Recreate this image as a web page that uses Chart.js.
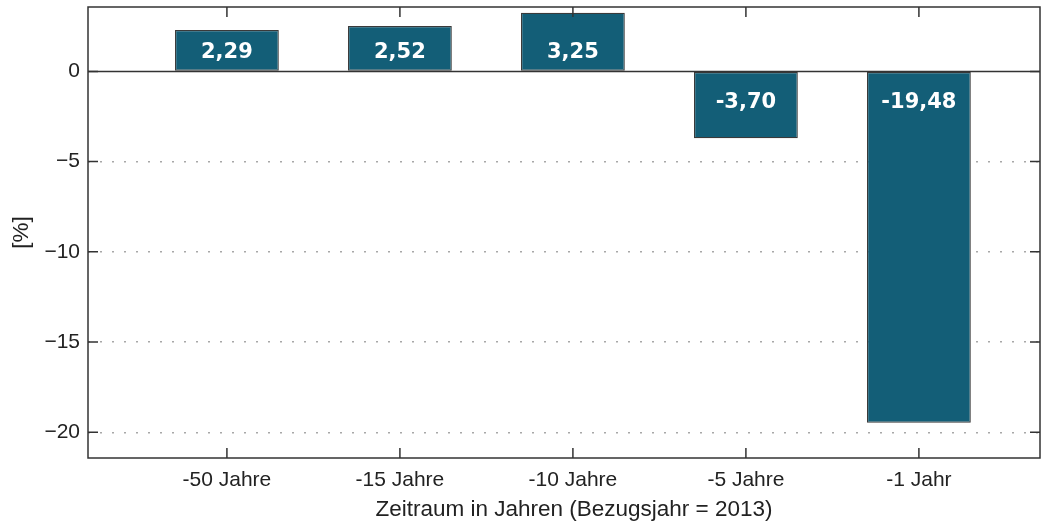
<!DOCTYPE html>
<html>
<head>
<meta charset="utf-8">
<script src="https://cdn.jsdelivr.net/npm/chart.js@4"></script>
<style>
  html, body { margin: 0; padding: 0; background: #fff; }
  #wrap { width: 1043px; height: 527px; }
</style>
</head>
<body>
<div id="wrap"><canvas id="chart"></canvas></div>
<script>
// data
const categories = ['-50 Jahre', '-15 Jahre', '-10 Jahre', '-5 Jahre', '-1 Jahr'];
const changes = [2.29, 2.52, 3.25, -3.70, -19.48];
const yTicks = [-20, -15, -10, -5, 0];
const xTitle = 'Zeitraum in Jahren (Bezugsjahr = 2013)';

const barColor = '#135e77';
const frameColor = '#333333';
const tickFont = { family: '"Liberation Sans", Arial, sans-serif', size: 21 };
const titleFont = { family: '"Liberation Sans", Arial, sans-serif', size: 22.5 };

// inward ticks on all four sides, zero line, frame, value labels, x title
const framePlugin = {
    id: 'frame',
    afterDatasetsDraw(chart) {
        const ctx = chart.ctx;
        const a = chart.chartArea;
        const x = chart.scales.x;
        const y = chart.scales.y;
        ctx.save();
        ctx.strokeStyle = frameColor;
        ctx.lineWidth = 1.5;

        // zero line
        const y0 = y.getPixelForValue(0);
        ctx.beginPath();
        ctx.moveTo(a.left, y0);
        ctx.lineTo(a.right, y0);
        ctx.stroke();

        // frame
        ctx.strokeRect(a.left, a.top, a.right - a.left, a.bottom - a.top);

        // ticks
        const len = 10;
        ctx.beginPath();
        categories.forEach((c, i) => {
            const px = x.getPixelForValue(i + 1);
            ctx.moveTo(px, a.top); ctx.lineTo(px, a.top + len);
            ctx.moveTo(px, a.bottom); ctx.lineTo(px, a.bottom - len);
        });
        yTicks.forEach(v => {
            const py = y.getPixelForValue(v);
            ctx.moveTo(a.left, py); ctx.lineTo(a.left + len, py);
            ctx.moveTo(a.right, py); ctx.lineTo(a.right - len, py);
        });
        ctx.stroke();

        // value labels near the base of each bar
        ctx.fillStyle = '#ffffff';
        ctx.font = 'bold 21px "DejaVu Sans", sans-serif';
        ctx.textAlign = 'center';
        ctx.textBaseline = 'middle';
        changes.forEach((v, i) => {
            const px = x.getPixelForValue(i + 1);
            const py = v >= 0 ? y0 - 19 : y0 + 31;
            ctx.fillText(v.toFixed(2).replace('.', ','), px, py);
        });

        // x axis title, sits slightly right of the plot centre
        ctx.fillStyle = '#222';
        ctx.font = titleFont.size + 'px ' + titleFont.family;
        ctx.fillText(xTitle, (a.left + a.right) / 2 + 10, a.bottom + 52);
        ctx.restore();
    }
};

new Chart(document.getElementById('chart').getContext('2d'), {
    type: 'bar',
    data: {
        datasets: [{
            data: changes.map((v, i) => ({ x: i + 1, y: v })),
            backgroundColor: barColor,
            borderColor: '#3a3a3a',
            borderWidth: 1.2,
            borderSkipped: false,
            barPercentage: 0.6,
            categoryPercentage: 1
        }]
    },
    options: {
        responsive: true,
        maintainAspectRatio: false,
        animation: false,
        layout: { padding: { top: 7, right: 3, left: 0, bottom: 0 } },
        plugins: {
            legend: { display: false },
            tooltip: { enabled: false }
        },
        scales: {
            x: {
                type: 'linear',
                offset: false,
                min: 0.197,
                max: 5.70,
                afterBuildTicks: scale => {
                    scale.ticks = categories.map((c, i) => ({ value: i + 1 }));
                },
                afterFit: scale => {
                    scale.height = 69;
                    scale.paddingLeft = 0;
                    scale.paddingRight = 0;
                },
                grid: { display: false, drawTicks: false, offset: false },
                border: { display: false },
                ticks: {
                    color: '#222',
                    font: tickFont,
                    padding: 10,
                    maxRotation: 0,
                    callback: v => categories[v - 1] || ''
                }
            },
            y: {
                min: -21.43,
                max: 3.57,
                afterBuildTicks: scale => {
                    scale.ticks = yTicks.map(v => ({ value: v }));
                },
                afterFit: scale => {
                    scale.width = 88;
                    scale.paddingTop = 0;
                    scale.paddingBottom = 0;
                },
                grid: {
                    drawTicks: false,
                    color: c => (c.tick && c.tick.value === 0) ? 'rgba(0,0,0,0)' : '#a8a8a8',
                    lineWidth: 1.4
                },
                border: { display: false, dash: [2, 10] },
                ticks: {
                    color: '#222',
                    font: tickFont,
                    padding: 8,
                    callback: v => String(v).replace('-', '\u2212')
                },
                title: {
                    display: true,
                    text: '[%]',
                    color: '#222',
                    font: titleFont,
                    padding: { top: 8, bottom: 0 }
                }
            }
        }
    },
    plugins: [framePlugin]
});
</script>
</body>
</html>
